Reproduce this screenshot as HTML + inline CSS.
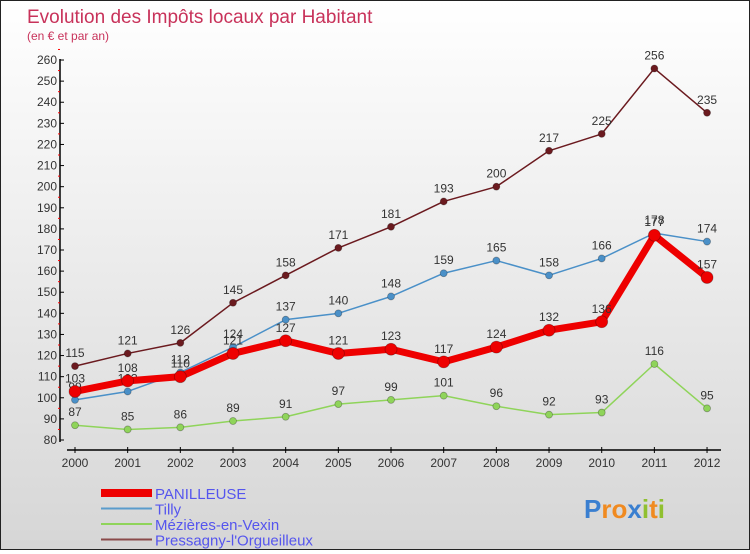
<!DOCTYPE html>
<html><head><meta charset="utf-8"><style>
body{margin:0;width:750px;height:550px;overflow:hidden;font-family:"Liberation Sans",sans-serif}
#wrap{position:absolute;left:0;top:0;width:748px;height:548px;border:1px solid #222;background:linear-gradient(#fff,#d6d6d6)}
</style></head><body>
<div id="wrap">
<svg id="chart" width="748" height="548"></svg>
</div>
<script>
const years=[2000,2001,2002,2003,2004,2005,2006,2007,2008,2009,2010,2011,2012];
const panilleuse=[103,108,110,121,127,121,123,117,124,132,136,177,157];
const tilly=[99,103,112,124,137,140,148,159,165,158,166,178,174];
const mezieres=[87,85,86,89,91,97,99,101,96,92,93,116,95];
const pressagny=[115,121,126,145,158,171,181,193,200,217,225,256,235];
const yTicks=[80,90,100,110,120,130,140,150,160,170,180,190,200,210,220,230,240,250,260];
const seriesNames=["PANILLEUSE","Tilly","Mézières-en-Vexin","Pressagny-l'Orgueilleux"];

const svg=document.getElementById('chart');
const NS='http://www.w3.org/2000/svg';
const x=i=>74+i*52.67;
const y=v=>439-(v-80)*2.111;
function mk(t,a,p){const e=document.createElementNS(NS,t);for(const k in a)e.setAttribute(k,a[k]);(p||svg).appendChild(e);return e;}
function tx(s,a){const e=mk('text',a);e.textContent=s;return e;}

const t1=tx('Evolution des Impôts locaux par Habitant',{x:26,y:22,'font-size':19,fill:'#c8325a'});


const t2=tx('(en € et par an)',{x:26,y:39,'font-size':12,fill:'#c8325a'});



// axes
const ya=mk('line',{x1:59,y1:58,x2:59,y2:441,stroke:'#000','stroke-width':1.5});


yTicks.forEach(v=>{
  mk('line',{x1:59,x2:63,y1:y(v),y2:y(v),stroke:'#000'});
  mk('line',{x1:57,x2:59,y1:y(v+5),y2:y(v+5),stroke:'#f00'});
  const l=tx(v,{x:56,y:y(v)+4,'font-size':12,'text-anchor':'end',fill:'#333'});
  
  
});
const xa=mk('line',{x1:66,y1:449,x2:720,y2:449,stroke:'#000','stroke-width':1.5});


years.forEach((yr,i)=>{
  mk('line',{x1:x(i),x2:x(i),y1:446,y2:452,stroke:'#000'});
  const l=tx(yr,{x:x(i),y:466,'font-size':12,'text-anchor':'middle',fill:'#333'});
  
  
});

function series(data,color,w,r,name){
  const g=mk('g',{});
  
  
  mk('polyline',{points:data.map((v,i)=>x(i)+','+y(v)).join(' '),fill:'none',stroke:color,'stroke-width':w,'stroke-linejoin':'round'},g);
  data.forEach((v,i)=>{
    const c=mk('circle',{cx:x(i),cy:y(v),r:r,fill:color,stroke:'rgba(0,0,0,0.3)','stroke-width':0.8},g);
    
    
    const l=tx(v,{x:x(i),y:y(v)-9,'font-size':12,'text-anchor':'middle',fill:'#333'});
    
    
    g.appendChild(l);
  });
}
series(pressagny,'#6b1a1f',1.5,3.5,'series-pressagny');
series(mezieres,'#8fd45a',1.5,3.5,'series-mezieres');
series(tilly,'#4a90c8',1.5,3.5,'series-tilly');
series(panilleuse,'#ee0000',7,6,'series-panilleuse');

// legend
const lc=['#ee0000','#5a9ccc','#8fd45a','#8a4a4a'];
const lw=[8,2,2,2];
seriesNames.forEach((n,i)=>{
  const yy=492+i*15.5;
  const g=mk('g',{});
  
  
  mk('line',{x1:100,x2:151,y1:yy,y2:yy,stroke:lc[i],'stroke-width':lw[i]},g);
  const t=tx(n,{x:154,y:yy+6,'font-size':15,fill:'#5555ee'});
  g.appendChild(t);
});

// logo
const lg=tx('',{x:583,y:517,'font-size':26,'font-weight':'bold'});


[['P','#3a7fd0'],['r','#f08a20'],['o','#f08a20'],['x','#3a7fd0'],['i','#90c030'],['t','#f08a20'],['i','#90c030']].forEach(([c,col])=>{
  const s=mk('tspan',{fill:col},lg);s.textContent=c;
});
</script>
</body></html>
